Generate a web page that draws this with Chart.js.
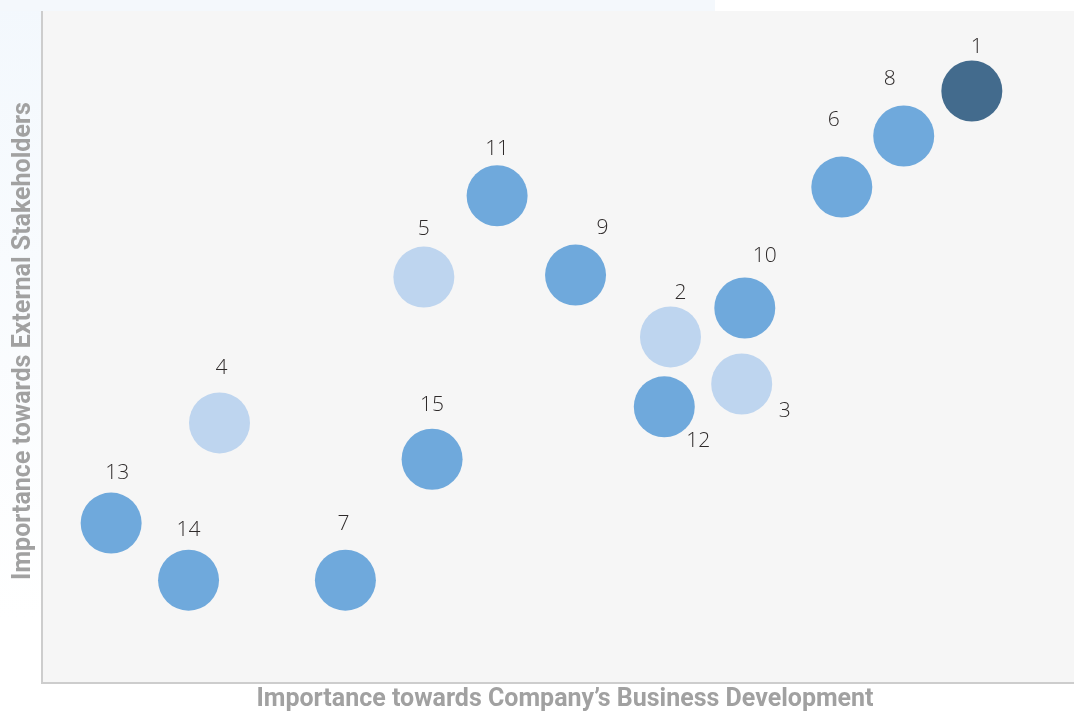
<!DOCTYPE html>
<html>
<head>
<meta charset="utf-8">
<script src="https://cdn.jsdelivr.net/npm/chart.js@4.4.1/dist/chart.umd.min.js"></script>
<style>
  html, body { margin: 0; padding: 0; background: #ffffff; }
  #wrap { position: relative; width: 1074px; height: 713px; }
</style>
</head>
<body>
<div id="wrap"><canvas id="c" width="1074" height="713"></canvas></div>
<script>
// ---- data ----
const issueLabels = ['1','2','3','4','5','6','7','8','9','10','11','12','13','14','15'];
const businessImportance = [9.01, 6.09, 6.78, 1.72, 3.70, 7.75, 2.94, 8.35, 5.17, 6.81, 4.41, 6.03, 0.67, 1.42, 3.78];
const stakeholderImportance = [8.81, 5.15, 4.45, 3.87, 6.04, 7.38, 1.53, 8.14, 6.07, 5.58, 7.25, 4.11, 2.38, 1.53, 3.33];
const priorityLevel = ['high','low','low','low','low','medium','medium','medium','medium','medium','medium','medium','medium','medium','medium'];
const xAxisTitle = 'Importance towards Company\u2019s Business Development';
const yAxisTitle = 'Importance towards External Stakeholders';

// ---- styles ----
const levelColors = { high: '#436b8d', medium: '#6fa9dc', low: '#bed5ef' };
// label anchor offsets (styling only)
const labelOffsets = [[5,-44],[10,-44],[43,27],[2,-55],[0,-48],[-8,-67],[-2,-56],[-14,-57],[27,-47],[20,-52],[0,-47],[34,34],[6,-50],[0,-50],[0,-54]];

const points = businessImportance.map((x, i) => ({ x: x, y: stakeholderImportance[i] }));

const decor = {
  id: 'decor',
  beforeDraw(chart) {
    const ctx = chart.ctx, a = chart.chartArea;
    ctx.save();
    // page tint
    const g = ctx.createLinearGradient(0, 0, 0, 620);
    g.addColorStop(0, '#f3f8fd');
    g.addColorStop(1, '#ffffff');
    ctx.fillStyle = g;
    ctx.fillRect(0, 0, a.left, 713);
    ctx.fillStyle = '#f4f8fc';
    ctx.fillRect(0, 0, 715, a.top);
    // plot background
    ctx.fillStyle = '#f6f6f6';
    ctx.fillRect(a.left, a.top, a.right - a.left, a.bottom - a.top);
    // axis lines
    ctx.strokeStyle = '#cdcdcd';
    ctx.lineWidth = 2;
    ctx.beginPath();
    ctx.moveTo(a.left, a.top);
    ctx.lineTo(a.left, a.bottom);
    ctx.lineTo(a.right, a.bottom);
    ctx.stroke();
    // axis titles
    ctx.fillStyle = '#a1a1a1';
    ctx.font = 'bold 25px "Roboto", sans-serif';
    ctx.textAlign = 'center';
    ctx.textBaseline = 'middle';
    ctx.fillText(xAxisTitle, 565, 700);
    ctx.translate(24, 341);
    ctx.rotate(-Math.PI / 2);
    ctx.fillText(yAxisTitle, 0, 0);
    ctx.restore();
  },
  afterDatasetsDraw(chart) {
    const ctx = chart.ctx;
    const meta = chart.getDatasetMeta(0);
    ctx.save();
    ctx.fillStyle = '#2e2a2a';
    ctx.font = '300 21px "Open Sans", "Lato", sans-serif';
    ctx.textAlign = 'center';
    ctx.textBaseline = 'middle';
    meta.data.forEach((el, i) => {
      const o = labelOffsets[i];
      ctx.fillText(issueLabels[i], el.x + o[0], el.y + o[1]);
    });
    ctx.restore();
  }
};

new Chart(document.getElementById('c'), {
  type: 'scatter',
  data: {
    labels: issueLabels,
    datasets: [{
      data: points,
      backgroundColor: priorityLevel.map(l => levelColors[l]),
      borderWidth: 0,
      pointRadius: 30.5,
      pointHoverRadius: 30.5,
      clip: false
    }]
  },
  options: {
    responsive: false,
    animation: false,
    devicePixelRatio: 1,
    layout: { autoPadding: false, padding: { left: 42, top: 11, right: 0, bottom: 30 } },
    plugins: { legend: { display: false }, tooltip: { enabled: false } },
    scales: {
      x: { display: false, min: 0, max: 10 },
      y: { display: false, min: 0, max: 10 }
    }
  },
  plugins: [decor]
});
</script>
</body>
</html>
